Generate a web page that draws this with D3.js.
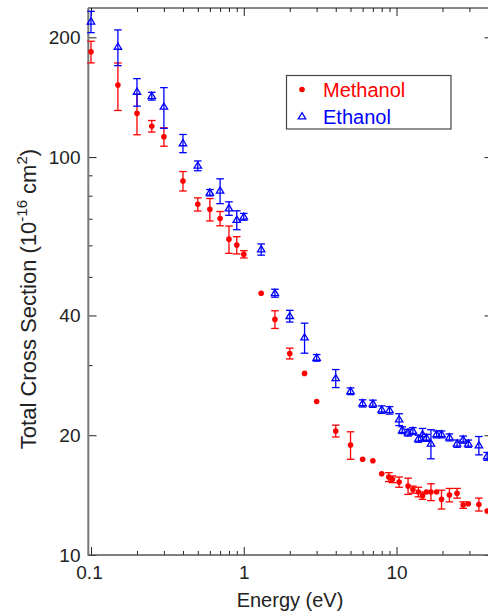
<!DOCTYPE html>
<html>
<head>
<meta charset="utf-8">
<script src="https://cdn.jsdelivr.net/npm/d3@7"></script>
<style>
  body { margin: 0; background: #fff; }
  svg { display: block; font-family: 'Liberation Sans', Arial, sans-serif; }
</style>
</head>
<body>
<div id="graph"></div>
<script>
'use strict';

let WIDTH = 488;
let HEIGHT = 615;

// plot frame (pixels)
let LEFT = 91;
let RIGHT = 488.5;
let TOP = 8;
let BOTTOM = 555;

let RED = '#ff0000';
let BLUE = '#0000ff';

// Methanol: energy (eV), cross section (1e-16 cm2), error
let methanolEnergy = [0.1, 0.15, 0.2, 0.25, 0.3, 0.4, 0.5, 0.6, 0.7, 0.8, 0.9, 1.0,
    1.3, 1.6, 2.0, 2.5, 3.0, 4.0, 5.0, 6.0, 7.0, 8.0, 8.9, 9.4, 10.4, 11.9, 12.8,
    13.9, 14.8, 15.7, 16.8, 18.3, 19.7, 22.2, 24.9, 27.3, 29.5, 34.6, 39.2];
let methanolSigma = [184, 151.7, 128.8, 119.6, 112.5, 87.1, 76.1, 73.9, 70.1, 62.2, 60.1, 57.0,
    45.5, 39.1, 32.1, 28.6, 24.3, 20.5, 18.9, 17.4, 17.25, 16.0, 15.7, 15.5, 15.25, 14.9, 14.6,
    14.4, 14.1, 14.4, 14.4, 14.4, 13.8, 14.15, 14.3, 13.35, 13.45, 13.4, 12.9];
let methanolErr = [11.5, 20.7, 15, 4, 6, 4.9, 2.9, 4.8, 2.9, 4.9, 3, 1.2,
    0, 2, 1, 0, 0, 0.7, 1.5, 0, 0, 0, 0.4, 0.3, 0.45, 0.7, 0.3,
    0.4, 0.3, 0, 0.7, 0, 0.75, 0.55, 0.4, 0.25, 0, 0.5, 0];

// Ethanol
let ethanolEnergy = [0.1, 0.15, 0.2, 0.25, 0.3, 0.4, 0.5, 0.6, 0.7, 0.8, 0.9, 1.0,
    1.3, 1.6, 2.0, 2.5, 3.0, 4.0, 5.0, 6.0, 7.0, 8.0, 9.0, 10.4, 10.9, 11.9, 12.8,
    13.9, 14.8, 15.7, 16.8, 18.3, 19.7, 22.2, 24.9, 27.3, 29.5, 34.6, 39.2];
let ethanolSigma = [219, 189.3, 145.9, 142.3, 133.8, 108.3, 95.1, 81.4, 82.3, 74.3, 69.5, 70.8,
    58.6, 45.5, 39.85, 35.2, 31.3, 27.8, 25.8, 24.05, 24.0, 23.2, 23.1, 21.9, 20.6, 20.3, 20.5,
    19.6, 20.1, 19.7, 19.05, 20.1, 20.1, 19.75, 19.05, 19.5, 19.05, 18.85, 17.7];
let ethanolErr = [13.5, 19.5, 11.6, 3.2, 15.7, 5.7, 2.7, 1.5, 5.9, 2.9, 3.8, 1.4,
    1.9, 1.05, 1.35, 3.05, 0.6, 1.45, 0.5, 0.5, 0.5, 0.5, 0.5, 0.75, 0.4, 0.4, 0.4,
    0.4, 0.7, 0.4, 1.6, 0.4, 0.4, 0.4, 0.4, 0.4, 0.4, 1.0, 0.4];

let xMajorTicks = [0.1, 1, 10];
let xMinorTicks = [0.2, 0.3, 0.4, 0.5, 0.6, 0.7, 0.8, 0.9, 2, 3, 4, 5, 6, 7, 8, 9, 20, 30];
let yMajorTicks = [10, 20, 40, 100, 200];
let yMinorTicks = [30, 50, 60, 70, 80, 90];

let SERIES = [
    {name: 'Methanol', color: RED, shape: 'dot',
        energy: methanolEnergy, sigma: methanolSigma, err: methanolErr},
    {name: 'Ethanol', color: BLUE, shape: 'tri',
        energy: ethanolEnergy, sigma: ethanolSigma, err: ethanolErr},
];

let TRI = 'M0,-3.8L3.7,2.4L-3.7,2.4Z';

function visualize () {
    let svg = d3.select('#graph')
        .append('svg')
        .attr('width', WIDTH)
        .attr('height', HEIGHT);

    let xScale = d3.scaleLog().domain([0.1, 40]).range([LEFT, RIGHT]);
    let yScale = d3.scaleLog().domain([10, 237]).range([BOTTOM, TOP]);

    drawAxes(svg, xScale, yScale);
    SERIES.forEach(s => plotSeries(svg, s, xScale, yScale));
    drawLegend(svg);
    makeLabels(svg);
}

function styleTicks (g) {
    g.select('.domain').remove();
    g.selectAll('.tick line').attr('stroke', '#222').attr('stroke-width', 1);
}

function drawAxes (svg, x, y) {
    let fmt = d => d;

    // bottom
    svg.append('g')
        .attr('transform', `translate(0,${BOTTOM})`)
        .call(d3.axisBottom(x).tickValues(xMajorTicks).tickFormat(fmt)
            .tickSize(-8).tickPadding(11))
        .call(styleTicks)
        .call(g => g.selectAll('text')
            .attr('fill', '#222').style('font-size', '19px'))
        .call(g => g.selectAll('text').filter(d => d == 0.1).attr('dx', -2));
    svg.append('g')
        .attr('transform', `translate(0,${BOTTOM})`)
        .call(d3.axisBottom(x).tickValues(xMinorTicks).tickFormat('').tickSize(-4))
        .call(styleTicks);

    // top
    svg.append('g')
        .attr('transform', `translate(0,${TOP})`)
        .call(d3.axisTop(x).tickValues(xMajorTicks).tickFormat('').tickSize(-8))
        .call(styleTicks);
    svg.append('g')
        .attr('transform', `translate(0,${TOP})`)
        .call(d3.axisTop(x).tickValues(xMinorTicks).tickFormat('').tickSize(-4))
        .call(styleTicks);

    // left
    svg.append('g')
        .attr('transform', 'translate(88.5,0)')
        .call(d3.axisLeft(y).tickValues(yMajorTicks).tickFormat(fmt)
            .tickSize(-8).tickPadding(8))
        .call(styleTicks)
        .call(g => g.selectAll('text')
            .attr('fill', '#222').style('font-size', '19px'));
    svg.append('g')
        .attr('transform', 'translate(88.5,0)')
        .call(d3.axisLeft(y).tickValues(yMinorTicks).tickFormat('').tickSize(-4))
        .call(styleTicks);

    // right (frame edge, mostly outside the window)
    svg.append('g')
        .attr('transform', `translate(${RIGHT},0)`)
        .call(d3.axisRight(y).tickValues(yMajorTicks).tickFormat('').tickSize(-4))
        .call(styleTicks);

    // frame lines
    svg.append('line')
        .attr('x1', 88).attr('x2', WIDTH).attr('y1', TOP).attr('y2', TOP)
        .attr('stroke', '#111').attr('stroke-width', 1);
    svg.append('line')
        .attr('x1', 88).attr('x2', WIDTH).attr('y1', BOTTOM).attr('y2', BOTTOM)
        .attr('stroke', '#555').attr('stroke-width', 1.6);
    svg.append('line')
        .attr('x1', 88.3).attr('x2', 88.3).attr('y1', TOP).attr('y2', BOTTOM + 0.8)
        .attr('stroke', '#777').attr('stroke-width', 2);
    svg.append('line')
        .attr('x1', RIGHT + 0.5).attr('x2', RIGHT + 0.5).attr('y1', TOP).attr('y2', BOTTOM)
        .attr('stroke', '#111').attr('stroke-width', 1);
}

function plotSeries (svg, s, x, y) {
    let data = s.energy.map((e, i) => ({e: e, v: s.sigma[i], err: s.err[i]}));
    let g = svg.append('g').attr('class', 'series-' + s.name);

    let bars = g.selectAll('.err')
        .data(data.filter(d => d.err > 0))
        .enter()
        .append('g')
        .attr('class', 'err')
        .attr('stroke', s.color)
        .attr('stroke-width', 1.3);

    bars.append('line')
        .attr('x1', d => x(d.e)).attr('x2', d => x(d.e))
        .attr('y1', d => y(d.v + d.err)).attr('y2', d => y(d.v - d.err));
    bars.append('line')
        .attr('x1', d => x(d.e) - 3.8).attr('x2', d => x(d.e) + 3.8)
        .attr('y1', d => y(d.v + d.err)).attr('y2', d => y(d.v + d.err));
    bars.append('line')
        .attr('x1', d => x(d.e) - 3.8).attr('x2', d => x(d.e) + 3.8)
        .attr('y1', d => y(d.v - d.err)).attr('y2', d => y(d.v - d.err));

    if (s.shape == 'dot') {
        g.selectAll('.dot')
            .data(data)
            .enter()
            .append('circle')
            .attr('cx', d => x(d.e))
            .attr('cy', d => y(d.v))
            .attr('r', 2.8)
            .attr('fill', s.color);
    } else {
        g.selectAll('.tri')
            .data(data)
            .enter()
            .append('path')
            .attr('d', TRI)
            .attr('transform', d => `translate(${x(d.e)},${y(d.v)})`)
            .attr('fill', 'none')
            .attr('stroke', s.color)
            .attr('stroke-width', 1.3);
    }
}

function drawLegend (svg) {
    let lg = svg.append('g');
    lg.append('rect')
        .attr('x', 286.5).attr('y', 75.5)
        .attr('width', 164.5).attr('height', 53.5)
        .attr('fill', '#fff')
        .attr('stroke', '#444')
        .attr('stroke-width', 1.2);

    SERIES.forEach((s, i) => {
        let cy = 89.5 + i * 27;
        if (s.shape == 'dot') {
            lg.append('circle')
                .attr('cx', 302).attr('cy', cy).attr('r', 2.8)
                .attr('fill', s.color);
        } else {
            lg.append('path')
                .attr('d', TRI)
                .attr('transform', `translate(302,${cy})`)
                .attr('fill', 'none')
                .attr('stroke', s.color)
                .attr('stroke-width', 1.3);
        }
        lg.append('text')
            .attr('x', 323).attr('y', cy + 7.5)
            .attr('fill', s.color)
            .style('font-size', '20px')
            .text(s.name);
    });
}

function makeLabels (svg) {
    svg.append('text')
        .attr('x', 290)
        .attr('y', 607)
        .attr('text-anchor', 'middle')
        .attr('fill', '#222')
        .style('font-size', '20px')
        .text('Energy (eV)');

    let yt = svg.append('text')
        .attr('transform', 'translate(36,299) rotate(-90)')
        .attr('text-anchor', 'middle')
        .attr('fill', '#222')
        .style('font-size', '22px');
    yt.append('tspan').text('Total Cross Section (10');
    yt.append('tspan').attr('dy', -9).style('font-size', '15px').text('-16');
    yt.append('tspan').attr('dy', 9).text(' cm');
    yt.append('tspan').attr('dy', -9).style('font-size', '15px').text('2');
    yt.append('tspan').attr('dy', 9).text(')');
}

visualize();
</script>
</body>
</html>
